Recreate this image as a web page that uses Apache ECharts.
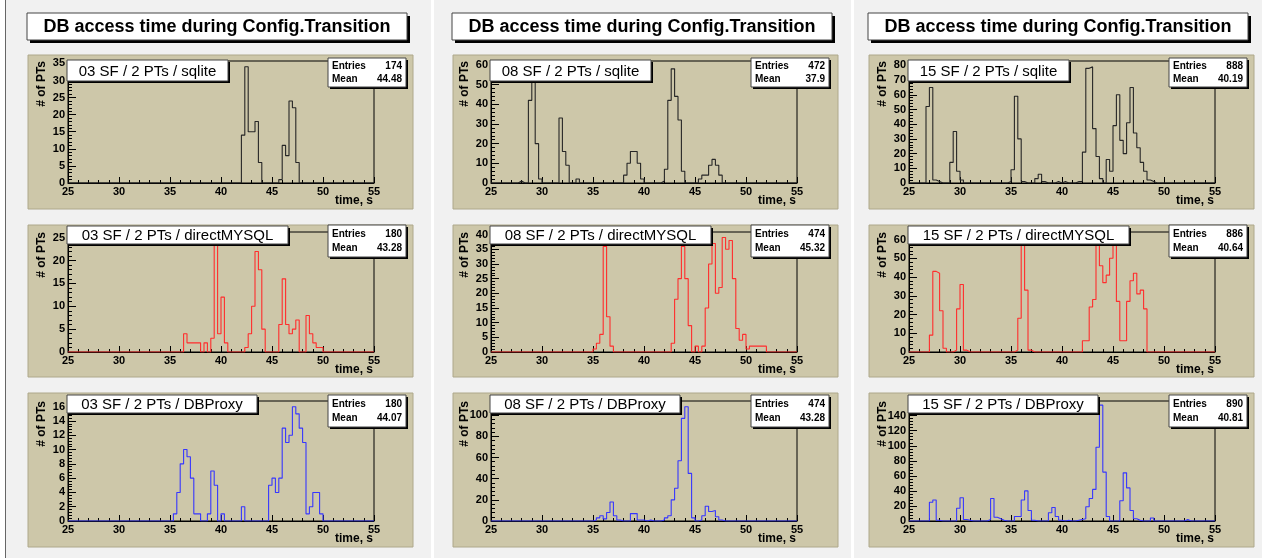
<!DOCTYPE html>
<html>
<head>
<meta charset="utf-8">
<title>DB access time during Config.Transition</title>
<style>
  html, body { margin: 0; padding: 0; background: #ffffff; }
  #chart { width: 1262px; height: 558px; }
</style>
<script src="https://cdn.jsdelivr.net/npm/echarts@6.0.0/dist/echarts.min.js"></script>
</head>
<body>
<div id="chart"></div>
<script>
// histograms: 90 bins of 1/3 s from 25 s to 55 s, one row = 5 s
const X_MIN = 25, X_MAX = 55, BIN = 1 / 3;

const sqlite03 = [
  0,0,0,0,0,0,0,0,0,0,0,0,0,0,0,
  0,0,0,0,0,0,0,0,0,0,0,0,0,0,0,
  0,0,0,0,0,0,0,0,0,0,0,0,0,0,0,
  0,0,0,0,0,0,14,34,15,15,18,6,0,0,0,
  0,0,1,11,8,24,22,6,0,0,0,0,0,0,0,
  0,0,0,0,0,0,0,0,0,0,0,0,0,0,0
];
const mysql03 = [
  0,0,0,0,0,0,0,0,0,0,0,0,0,0,0,
  0,0,0,0,0,0,0,0,0,0,0,0,0,0,0,
  0,0,0,0,4,2,2,2,2,0,2,0,3,25,4,
  12,2,0,0,0,0,0,1,4,10,22,18,5,0,0,
  0,0,6,16,6,4,5,7,0,0,8,4,2,1,1,
  0,0,0,0,0,0,0,0,0,0,0,0,0,0,0
];
const proxy03 = [
  0,0,0,0,0,0,0,0,0,0,0,0,0,0,0,
  0,0,0,0,0,0,0,0,0,0,0,0,0,0,0,
  0,1,4,8,10,9,6,1,1,0,0,1,7,5,0,
  1,0,0,0,0,0,2,0,0,0,0,0,0,0,5,
  6,4,6,13,11,12,16,15,13,11,1,2,4,4,1,
  0,0,0,0,0,0,0,0,0,0,0,0,0,0,0
];
const sqlite08 = [
  0,0,0,0,0,0,0,0,1,0,0,42,56,20,2,
  0,0,0,0,0,33,16,9,0,0,2,0,0,0,0,
  0,0,0,0,0,0,0,0,0,4,10,16,16,10,2,
  0,0,0,0,0,1,7,42,58,44,32,6,0,0,0,
  0,2,4,4,9,12,9,4,0,0,0,0,0,0,0,
  0,0,0,0,0,0,0,0,0,0,0,0,0,0,0
];
const mysql08 = [
  0,0,0,0,0,0,0,0,0,0,0,0,0,0,0,
  0,0,0,0,0,0,0,0,0,0,0,0,0,0,0,
  1,3,6,36,12,2,0,0,0,0,0,0,0,0,0,
  0,0,0,0,0,0,0,0,3,18,25,36,25,9,0,
  2,0,2,15,30,37,20,22,39,35,38,25,8,4,6,
  1,2,2,2,2,2,0,0,0,0,0,0,0,0,0
];
const proxy08 = [
  0,0,0,0,0,0,0,0,0,0,0,0,0,0,0,
  0,0,0,0,0,0,0,0,0,0,0,0,0,0,0,
  1,3,5,2,8,18,5,1,0,0,0,7,7,1,1,
  0,1,0,0,0,1,3,5,20,31,57,97,108,45,3,
  0,1,5,14,9,10,4,1,0,0,0,0,0,0,0,
  0,0,0,0,0,0,0,0,0,0,0,0,0,0,0
];
const sqlite15 = [
  0,0,0,0,0,52,65,2,1,0,0,0,14,35,8,
  2,0,0,0,0,0,0,0,0,0,0,0,0,0,1,
  9,59,30,1,0,0,0,3,6,1,0,0,0,1,0,
  1,0,0,0,1,1,21,78,79,37,18,3,0,16,8,
  39,60,29,20,41,65,34,24,14,8,2,1,0,0,0,
  0,0,0,0,0,0,0,0,0,0,0,0,0,0,0
];
const mysql15 = [
  0,0,0,0,0,0,9,43,42,22,2,0,0,1,23,
  36,1,0,0,0,0,0,0,0,0,0,0,0,0,0,
  0,1,18,61,33,1,0,0,0,0,0,0,0,0,0,
  0,0,0,0,0,0,6,6,24,28,61,46,37,41,50,
  61,27,6,6,27,38,42,31,33,23,0,0,0,0,0,
  0,0,0,0,0,0,0,0,0,0,0,0,0,0,0
];
const proxy15 = [
  0,0,0,0,0,0,25,28,1,0,0,0,0,0,17,
  31,2,1,0,0,0,0,0,2,30,5,3,1,0,0,
  0,6,6,28,40,14,1,0,0,0,0,11,18,6,1,
  0,1,0,0,1,2,3,19,30,42,98,154,65,6,0,
  0,0,27,64,44,14,3,1,0,0,0,4,0,0,0,
  0,0,0,0,0,0,2,0,0,0,0,0,0,0,0
];

const sfNames = ['03', '08', '15'];
const dbNames = ['sqlite', 'directMYSQL', 'DBProxy'];
const entries = [[174, 180, 180], [472, 474, 474], [888, 886, 890]];
const means = [['44.48', '43.28', '44.07'], ['37.9', '45.32', '43.28'], ['40.19', '40.64', '40.81']];
const yMax = [[35.7, 26.25, 16.8], [62, 40.9, 113.4], [83, 64, 159.5]];
const yStep = [[5, 5, 2], [10, 5, 20], [10, 10, 20]];

const counts = [
  [sqlite03, mysql03, proxy03],
  [sqlite08, mysql08, proxy08],
  [sqlite15, mysql15, proxy15]
];

// layout (pixels)
const COL_BG = [[6, 425], [434, 417], [854, 408]];
const PAD_LEFT = [28, 453, 869], PAD_W = 385;
const PAD_TOP = [55, 225, 393], PAD_H = [154, 152, 154];
const FRAME_LEFT = [68, 491, 909], FRAME_W = 306;
const FRAME_TOP = [61, 232, 401], FRAME_H = [122, 120, 120];
const TITLE_W = [161, 221, 190];
const TITLE_DY = [-1, -6, -6], TITLE_H = [21, 18, 18];
const STAT_DY = [-3, -7, -6], STAT_H = [29, 32, 32];
const LINE_COLORS = ['#262626', '#ff2d2d', '#3636ff'];

const FONT = '"Liberation Sans", Arial, sans-serif';
const PAD_COLOR = '#cdc7a9';

function steps(vals) {
  const pts = vals.map((v, i) => [X_MIN + i * BIN, v]);
  pts.push([X_MAX, vals[vals.length - 1]]);
  return pts;
}

function box(x, y, w, h, sh) {
  return [
    { type: 'rect', shape: { x: x + sh, y: y + sh, width: w, height: h }, style: { fill: '#000' }, z: 100, silent: true },
    { type: 'rect', shape: { x: x, y: y, width: w, height: h }, style: { fill: '#fff', stroke: '#444', lineWidth: 1 }, z: 101, silent: true }
  ];
}

function text(x, y, str, font, align, extra) {
  return Object.assign({
    type: 'text', x: x, y: y, z: 102, silent: true,
    style: { text: str, font: font, fill: '#000', textAlign: align || 'left', textVerticalAlign: 'middle' }
  }, extra || {});
}

const grids = [], xAxes = [], yAxes = [], series = [], graphics = [];

// column backgrounds
COL_BG.forEach(([x, w]) => {
  graphics.push({ type: 'rect', shape: { x: x, y: 0, width: w, height: 558 }, style: { fill: '#f1f1f1' }, z: -20, silent: true });
});
graphics.push({ type: 'line', shape: { x1: 5.5, y1: 0, x2: 5.5, y2: 558 }, style: { stroke: '#666', lineWidth: 1 }, z: -19, silent: true });

for (let c = 0; c < 3; c++) {
  // column title
  graphics.push(...box(PAD_LEFT[c] - 1, 13, PAD_W - 5, 27, 3));
  graphics.push(text(PAD_LEFT[c] - 1 + (PAD_W - 5) / 2, 27, 'DB access time during Config.Transition', 'bold 18px ' + FONT, 'center'));

  for (let r = 0; r < 3; r++) {
    const k = c * 3 + r;
    const fl = FRAME_LEFT[c], ft = FRAME_TOP[r], fh = FRAME_H[r];

    // pad
    graphics.push({ type: 'rect', shape: { x: PAD_LEFT[c], y: PAD_TOP[r], width: PAD_W, height: PAD_H[r] },
      style: { fill: PAD_COLOR, stroke: '#aea88b', lineWidth: 1 }, z: -10, silent: true });

    grids.push({ left: fl, top: ft, width: FRAME_W, height: fh, show: true,
      borderColor: '#000', borderWidth: 1, backgroundColor: 'transparent' });

    xAxes.push({
      type: 'value', gridIndex: k, min: X_MIN, max: X_MAX, interval: 5,
      axisLine: { lineStyle: { color: '#000', width: 1 } },
      axisTick: { inside: true, length: 6, lineStyle: { color: '#000' } },
      minorTick: { show: true, splitNumber: 5, length: 3, lineStyle: { color: '#000' } },
      splitLine: { show: false },
      axisLabel: { margin: 3, color: '#000', fontSize: 11, fontWeight: 'bold', fontFamily: FONT }
    });
    yAxes.push({
      type: 'value', gridIndex: k, min: 0, max: yMax[c][r], interval: yStep[c][r],
      axisLine: { show: true, lineStyle: { color: '#000', width: 1 } },
      axisTick: { inside: true, length: 8, lineStyle: { color: '#000' } },
      minorTick: { show: true, splitNumber: 5, length: 4, lineStyle: { color: '#000' } },
      splitLine: { show: false },
      axisLabel: { margin: 3, color: '#000', fontSize: 11, fontWeight: 'bold', fontFamily: FONT, showMaxLabel: false }
    });
    series.push({
      type: 'line', xAxisIndex: k, yAxisIndex: k, step: 'end', symbol: 'none',
      data: steps(counts[c][r]), animation: false, silent: true, z: 3,
      lineStyle: { color: LINE_COLORS[r], width: 1.1 }, itemStyle: { color: LINE_COLORS[r] }
    });

    // pad title
    const tx = fl - 1, ty = ft + TITLE_DY[r];
    graphics.push(...box(tx, ty, TITLE_W[r], TITLE_H[r], 2));
    graphics.push(text(tx + TITLE_W[r] / 2, ty + TITLE_H[r] / 2 + 1,
      sfNames[c] + ' SF / 2 PTs / ' + dbNames[r], '15px ' + FONT, 'center'));

    // stats box
    const sx = fl + FRAME_W - 46, sy = ft + STAT_DY[r], sw = 78, sh = STAT_H[r];
    graphics.push(...box(sx, sy, sw, sh, 2));
    graphics.push(text(sx + 4, sy + sh * 0.3, 'Entries', 'bold 10px ' + FONT, 'left'));
    graphics.push(text(sx + sw - 4, sy + sh * 0.3, String(entries[c][r]), 'bold 10px ' + FONT, 'right'));
    graphics.push(text(sx + 4, sy + sh * 0.74, 'Mean', 'bold 10px ' + FONT, 'left'));
    graphics.push(text(sx + sw - 4, sy + sh * 0.74, means[c][r], 'bold 10px ' + FONT, 'right'));

    // axis titles
    graphics.push(text(fl - 26, ft, '# of PTs', 'bold 12px ' + FONT, 'right', { rotation: Math.PI / 2 }));
    graphics.push(text(fl + FRAME_W - 1, ft + fh + 18, 'time, s', 'bold 12px ' + FONT, 'right'));
  }
}

const chart = echarts.init(document.getElementById('chart'), null, { renderer: 'canvas' });
chart.setOption({
  animation: false,
  backgroundColor: '#ffffff',
  grid: grids,
  xAxis: xAxes,
  yAxis: yAxes,
  series: series,
  graphic: { elements: graphics }
});
</script>
</body>
</html>
